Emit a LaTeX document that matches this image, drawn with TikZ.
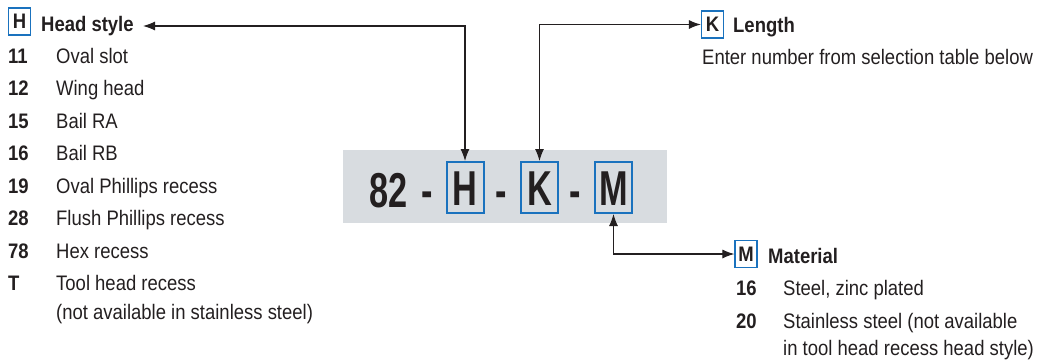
\documentclass[tikz,border=0pt]{standalone}
\usepackage{fontspec}
\setmainfont{Liberation Sans}[FakeStretch=0.88]
\newfontfamily\platefont{Liberation Sans}[FakeStretch=0.7]
\usetikzlibrary{arrows.meta}
\definecolor{ink}{HTML}{231F20}
\definecolor{keyblue}{HTML}{1A72BE}
\definecolor{plategray}{HTML}{D8DCE0}
\newcommand{\rowfont}{\fontsize{21}{24}\selectfont}
\newcommand{\platesize}{\platefont\fontsize{49}{50}\selectfont\bfseries}

\begin{document}
\begin{tikzpicture}[
  x=1pt, y=-1pt, color=ink, font=\rowfont,
  key/.style={draw=keyblue, line width=1.2pt, minimum width=22pt, minimum height=27pt, inner sep=0pt, font=\rowfont\bfseries},
  bigkey/.style={draw=keyblue, line width=2pt, minimum width=37pt, minimum height=51pt, inner sep=0pt, text height=35pt, text depth=0pt, font=\platesize},
  big/.style={anchor=base, inner sep=0pt, font=\platesize},
  hd/.style={anchor=base west, inner sep=0pt, font=\rowfont\bfseries},
  num/.style={anchor=base west, inner sep=0pt, font=\rowfont\bfseries},
  txt/.style={anchor=base west, inner sep=0pt},
  pf/.style={{Latex[length=12pt,width=9pt]}-{Latex[length=12pt,width=9pt]}, line width=1.1pt}
]
\useasboundingbox (0,0) rectangle (1037,360);

% part number plate
\node[fill=plategray, minimum width=324pt, minimum height=73pt, inner sep=0pt] (plate) at (505,186.5) {};
\node[big] (pre) at (388.5,207) {82};
\node[big] (d1) at (427,207) {-};
\node[bigkey] (hbig) at (465,187.5) {H};
\node[big] (d2) at (501.5,207) {-};
\node[bigkey] (kbig) at (539.5,187.5) {K};
\node[big] (d3) at (575.5,207) {-};
\node[bigkey] (mbig) at (613.5,187.5) {M};

% head style
\node[key] (hkey) at (19.5,21.5) {H};
\node[hd] (hhead) at (41,31.5) {Head style};
\node[num] (n11) at (8,63) {11};     \node[txt] (t11) at (56,63) {Oval slot};
\node[num] (n12) at (8,95.5) {12};   \node[txt] (t12) at (56,95.5) {Wing head};
\node[num] (n15) at (8,128) {15};    \node[txt] (t15) at (56,128) {Bail RA};
\node[num] (n16) at (8,160.5) {16};  \node[txt] (t16) at (56,160.5) {Bail RB};
\node[num] (n19) at (8,193) {19};    \node[txt] (t19) at (56,193) {Oval Phillips recess};
\node[num] (n28) at (8,225.5) {28};  \node[txt] (t28) at (56,225.5) {Flush Phillips recess};
\node[num] (n78) at (8,258) {78};    \node[txt] (t78) at (56,258) {Hex recess};
\node[num] (nT) at (8,290) {T};      \node[txt] (tT) at (56,290) {Tool head recess};
\node[txt] (tTb) at (56,319) {(not available in stainless steel)};

% length
\node[key] (kkey) at (712.5,24.5) {K};
\node[hd] (khead) at (733,32) {Length};
\node[txt] (kinfo) at (702,64) {Enter number from selection table below};

% material
\node[key] (mkey) at (746,254) {M};
\node[hd] (mhead) at (768,263) {Material};
\node[num] (m16) at (736,295) {16};  \node[txt] (u16) at (783,295) {Steel, zinc plated};
\node[num] (m20) at (736,328) {20};  \node[txt] (u20) at (783,328) {Stainless steel (not available};
\node[txt] (u20b) at (783,355) {in tool head recess head style)};

\coordinate (hend) at (143,26);
\draw[pf] (hbig.north) |- (hend);
\draw[pf] (kbig.north) |- (kkey.west);
\draw[pf] (mbig.south) |- (mkey.west);
\end{tikzpicture}
\end{document}
